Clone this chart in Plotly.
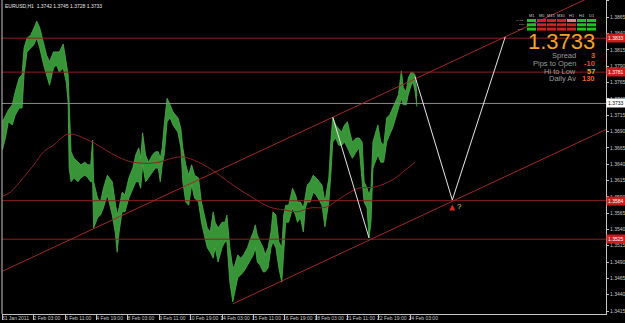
import plotly.graph_objects as go

# ---------------- data ----------------
bars = [0, 3, 6, 10, 13, 17, 20, 22, 25, 29, 32, 35,
        38, 42, 45, 48, 52, 55, 58, 62, 65, 67, 68, 70,
        73, 77, 80, 84, 87, 90, 92, 93, 97, 100, 103, 107,
        112, 115, 117, 119, 122, 125, 129, 133, 136, 139, 141, 143,
        146, 149, 153, 156, 159, 161, 163, 165, 168, 171, 174, 179,
        182, 184, 187, 190, 193, 196, 200, 203, 206, 209, 212, 215,
        217, 220, 224, 227, 229, 232, 235, 237, 240, 243, 246, 250,
        252, 256, 258, 260, 263, 266, 268, 271, 274, 276, 279, 282,
        285, 287, 289, 292, 296, 299, 301, 304, 307, 309, 311, 314,
        317, 320, 323, 326, 329, 333, 335, 337, 340, 343, 346, 349,
        352, 355, 357, 361, 364, 367, 369, 372, 374, 376, 378, 383,
        386, 389, 392, 395, 398, 402, 404, 407, 409, 412, 414, 417,
        419, 421, 423]

highs = [1.3705, 1.3715, 1.3723, 1.3731, 1.3751, 1.3772, 1.3777, 1.3818, 1.3833, 1.3838, 1.3849, 1.3859,
         1.3849, 1.3827, 1.3807, 1.3797, 1.3812, 1.3812, 1.3812, 1.3824, 1.3792, 1.3777, 1.3735, 1.3659,
         1.3649, 1.3643, 1.3639, 1.3643, 1.3639, 1.3639, 1.3677, 1.3613, 1.3588, 1.3582, 1.3603, 1.3623,
         1.3613, 1.3582, 1.3562, 1.3573, 1.3597, 1.3593, 1.3619, 1.3634, 1.3654, 1.3665, 1.3649, 1.3688,
         1.3654, 1.3643, 1.3654, 1.3659, 1.3659, 1.3649, 1.3665, 1.3700, 1.3741, 1.3731, 1.3720, 1.3711,
         1.3695, 1.3665, 1.3639, 1.3623, 1.3639, 1.3623, 1.3619, 1.3582, 1.3562, 1.3542, 1.3536, 1.3567,
         1.3551, 1.3542, 1.3551, 1.3551, 1.3562, 1.3512, 1.3481, 1.3485, 1.3501, 1.3496, 1.3501, 1.3512,
         1.3521, 1.3536, 1.3547, 1.3531, 1.3521, 1.3512, 1.3501, 1.3512, 1.3536, 1.3567, 1.3562, 1.3521,
         1.3512, 1.3562, 1.3577, 1.3577, 1.3603, 1.3593, 1.3582, 1.3582, 1.3573, 1.3593, 1.3608, 1.3613,
         1.3623, 1.3619, 1.3613, 1.3608, 1.3582, 1.3619, 1.3674, 1.3712, 1.3700, 1.3695, 1.3689, 1.3700,
         1.3705, 1.3685, 1.3674, 1.3680, 1.3680, 1.3674, 1.3613, 1.3603, 1.3593, 1.3603, 1.3674, 1.3700,
         1.3674, 1.3669, 1.3711, 1.3715, 1.3726, 1.3741, 1.3746, 1.3783, 1.3757, 1.3751, 1.3772, 1.3781,
         1.3780, 1.3777, 1.3745]

lows = [1.3662, 1.3680, 1.3705, 1.3700, 1.3715, 1.3726, 1.3726, 1.3777, 1.3812, 1.3818, 1.3823, 1.3833,
        1.3818, 1.3792, 1.3777, 1.3761, 1.3787, 1.3792, 1.3781, 1.3787, 1.3766, 1.3735, 1.3634, 1.3613,
        1.3619, 1.3613, 1.3619, 1.3623, 1.3619, 1.3613, 1.3613, 1.3542, 1.3558, 1.3562, 1.3573, 1.3593,
        1.3562, 1.3536, 1.3505, 1.3536, 1.3567, 1.3567, 1.3588, 1.3603, 1.3613, 1.3613, 1.3603, 1.3639,
        1.3613, 1.3619, 1.3628, 1.3634, 1.3634, 1.3613, 1.3639, 1.3654, 1.3705, 1.3711, 1.3700, 1.3689,
        1.3665, 1.3613, 1.3582, 1.3577, 1.3608, 1.3588, 1.3582, 1.3551, 1.3531, 1.3512, 1.3505, 1.3496,
        1.3512, 1.3490, 1.3512, 1.3521, 1.3521, 1.3459, 1.3429, 1.3444, 1.3466, 1.3470, 1.3475, 1.3485,
        1.3490, 1.3501, 1.3512, 1.3490, 1.3485, 1.3475, 1.3475, 1.3481, 1.3512, 1.3521, 1.3512, 1.3481,
        1.3459, 1.3512, 1.3551, 1.3551, 1.3573, 1.3562, 1.3551, 1.3558, 1.3536, 1.3573, 1.3582, 1.3582,
        1.3597, 1.3593, 1.3585, 1.3577, 1.3544, 1.3582, 1.3623, 1.3674, 1.3680, 1.3669, 1.3669, 1.3674,
        1.3665, 1.3654, 1.3649, 1.3659, 1.3665, 1.3613, 1.3582, 1.3573, 1.3527, 1.3551, 1.3634, 1.3654,
        1.3643, 1.3643, 1.3674, 1.3685, 1.3695, 1.3715, 1.3726, 1.3741, 1.3731, 1.3731, 1.3746, 1.3761,
        1.3766, 1.3751, 1.3728]

assert len(bars) == len(highs) == len(lows)

ma_bars = [0, 8, 21, 32, 42, 52, 67, 90, 105, 118, 133, 156, 173, 184, 200, 217, 225, 240,
           256, 273, 287, 301, 314, 330, 347, 363, 380, 398, 411, 421]
ma_vals = [1.3591, 1.3597, 1.3619, 1.3639, 1.3659, 1.3669, 1.3686, 1.3675, 1.3662, 1.3651,
           1.3643, 1.3642, 1.3649, 1.3651, 1.3643, 1.3628, 1.3619, 1.3603, 1.3588, 1.3574,
           1.3570, 1.3567, 1.3573, 1.3574, 1.3590, 1.3603, 1.3605, 1.3616, 1.3631, 1.3643]

upper_ch_bars = [0, 600]
upper_ch_vals = [1.3476, 1.3896]
lower_ch_bars = [235, 620]
lower_ch_vals = [1.3426, 1.3696]

abcd_left_bars = [337, 374]
abcd_left_vals = [1.3712, 1.3527]
abcd_proj_bars = [421, 459, 513]
abcd_proj_vals = [1.3774, 1.3585, 1.3835]

hline_levels = [1.3833, 1.3781, 1.3584, 1.3525]
bid_level = 1.3733

x_tick_bars = [0, 32, 64, 96, 128, 160, 192, 224, 256, 288, 320, 352, 384, 416]
x_tick_text = ["31 Jan 2011", "2 Feb 03:00", "3 Feb 11:00", "4 Feb 19:00", "8 Feb 03:00",
               "9 Feb 11:00", "10 Feb 19:00", "14 Feb 03:00", "15 Feb 11:00", "16 Feb 19:00",
               "18 Feb 03:00", "21 Feb 11:00", "22 Feb 19:00", "24 Feb 03:00"]
y_tick_vals = [1.3415, 1.3440, 1.3465, 1.3490, 1.3515, 1.3540, 1.3565, 1.3590, 1.3615, 1.3640,
               1.3665, 1.3690, 1.3715, 1.3740, 1.3765, 1.3790, 1.3815, 1.3840, 1.3865, 1.3890]

title_text = "EURUSD,H1  1.3742 1.3745 1.3728 1.3733"
timeframes = ["M1", "M5", "M15", "M30", "H1", "H4", "D1"]
ind_rows = ["MACD", "STR", "EMA"]
ind_state = [["g", "r", "r", "r", "p", "g", "g"],
             ["g", "r", "r", "r", "r", "g", "g"],
             ["g", "r", "r", "r", "r", "g", "g"]]
info_labels = ["Spread", "Pips to Open", "Hi to Low", "Daily Av"]
info_values = ["3", "-10", "57", "130"]
info_colors = ["#e8663a", "#e0503a", "#e8a23c", "#e8603a"]

# ---------------- styling ----------------
W, H = 625, 323
ML, MR, MT, MB = 2, 19, 0, 9
PW, PH = W - ML - MR, H - MT - MB
GREEN = "#4cae4c"
GREEN_FILL = "#379537"
DARKRED = "#8c2222"
CHRED = "#a02a2a"
AX = "#c4c4c4"
FONT = "Liberation Sans, Arial, sans-serif"

def px_x(p):
    return (p - ML) / PW

def px_y(p):
    return 1 - (p - MT) / PH

fig = go.Figure()

# price band (high/low of the hourly bars)
fig.add_trace(go.Scatter(x=bars, y=lows, mode="lines", line=dict(color=GREEN, width=0.8),
                         hoverinfo="skip", showlegend=False))
fig.add_trace(go.Scatter(x=bars, y=highs, mode="lines", line=dict(color=GREEN, width=0.8),
                         fill="tonexty", fillcolor=GREEN_FILL, hoverinfo="skip", showlegend=False))

# horizontal levels
for lv in hline_levels:
    fig.add_trace(go.Scatter(x=[-5, 640], y=[lv, lv], mode="lines",
                             line=dict(color=DARKRED, width=1), hoverinfo="skip", showlegend=False))
fig.add_trace(go.Scatter(x=[-5, 640], y=[bid_level, bid_level], mode="lines",
                         line=dict(color="#8a8a8a", width=1), hoverinfo="skip", showlegend=False))

# moving average
fig.add_trace(go.Scatter(x=ma_bars, y=ma_vals, mode="lines", line=dict(color=DARKRED, width=1),
                         line_shape="spline", hoverinfo="skip", showlegend=False))

# channel lines
fig.add_trace(go.Scatter(x=upper_ch_bars, y=upper_ch_vals, mode="lines",
                         line=dict(color=CHRED, width=1), hoverinfo="skip", showlegend=False))
fig.add_trace(go.Scatter(x=lower_ch_bars, y=lower_ch_vals, mode="lines",
                         line=dict(color=CHRED, width=1), hoverinfo="skip", showlegend=False))

# AB=CD white lines
fig.add_trace(go.Scatter(x=abcd_left_bars, y=abcd_left_vals, mode="lines",
                         line=dict(color="#e8e8e8", width=1), hoverinfo="skip", showlegend=False))
fig.add_trace(go.Scatter(x=abcd_proj_bars, y=abcd_proj_vals, mode="lines",
                         line=dict(color="#e8e8e8", width=1), hoverinfo="skip", showlegend=False))

# red arrow under projected point D
fig.add_trace(go.Scatter(x=[abcd_proj_bars[1]], y=[abcd_proj_vals[1] - 0.0007], mode="markers",
                         marker=dict(symbol="arrow-up", size=6, color="#d82828",
                                     line=dict(width=0)),
                         hoverinfo="skip", showlegend=False))

annotations = []
shapes = []

annotations.append(dict(x=abcd_proj_bars[1] + 7, y=abcd_proj_vals[1], xref="x", yref="y", text="?",
                        showarrow=False, yanchor="top", yshift=0,
                        font=dict(color="#e8d870", size=8, family=FONT)))

# title
annotations.append(dict(x=px_x(3), y=px_y(6), xref="paper", yref="paper", text=title_text,
                        showarrow=False, xanchor="left", yanchor="middle",
                        font=dict(color="#e8e8e8", size=5, family=FONT)))

# right axis price labels
for lv in hline_levels:
    annotations.append(dict(x=1, y=lv, xref="paper", yref="y", text=f"{lv:.4f}", showarrow=False,
                            xanchor="left", yanchor="middle", bgcolor="#c81e1e", borderpad=1,
                            font=dict(color="#ffffff", size=5, family=FONT)))
annotations.append(dict(x=1, y=bid_level, xref="paper", yref="y", text=f"{bid_level:.4f}",
                        showarrow=False, xanchor="left", yanchor="middle", bgcolor="#ffffff",
                        borderpad=1, font=dict(color="#000000", size=5, family=FONT)))

# indicator panel
col_x = [527, 537, 547, 557, 567, 577, 587]
row_y = [19, 23.3, 27.6]
cmap = {"g": "#22c022", "r": "#c82424", "p": "#e08080"}
for ci, tf in enumerate(timeframes):
    annotations.append(dict(x=px_x(col_x[ci] + 4.5), y=px_y(15.5), xref="paper", yref="paper",
                            text=tf, showarrow=False, xanchor="center", yanchor="middle",
                            font=dict(color="#c8c8c8", size=4, family=FONT)))
for ri, rn in enumerate(ind_rows):
    annotations.append(dict(x=px_x(526), y=px_y(row_y[ri] + 1.5), xref="paper", yref="paper",
                            text=rn, showarrow=False, xanchor="right", yanchor="middle",
                            font=dict(color="#b0b0b0", size=2.5, family=FONT)))
    for ci in range(len(timeframes)):
        shapes.append(dict(type="rect", xref="paper", yref="paper",
                           x0=px_x(col_x[ci]), x1=px_x(col_x[ci] + 9),
                           y0=px_y(row_y[ri]), y1=px_y(row_y[ri] + 3),
                           fillcolor=cmap[ind_state[ri][ci]], line=dict(width=0)))

annotations.append(dict(x=px_x(597), y=px_y(42), xref="paper", yref="paper", text=f"{bid_level:.4f}",
                        showarrow=False, xanchor="right", yanchor="middle",
                        font=dict(color="#f4a22a", size=22, family=FONT)))
info_y = [56, 63.5, 71, 78.5]
for lab, val, col, yy in zip(info_labels, info_values, info_colors, info_y):
    annotations.append(dict(x=px_x(578), y=px_y(yy), xref="paper", yref="paper", text=lab,
                            showarrow=False, xanchor="right", yanchor="middle",
                            font=dict(color="#9c9c9c", size=7.5, family=FONT)))
    annotations.append(dict(x=px_x(597), y=px_y(yy), xref="paper", yref="paper", text=f"<b>{val}</b>",
                            showarrow=False, xanchor="right", yanchor="middle",
                            font=dict(color=col, size=7.5, family=FONT)))

# left border
shapes.append(dict(type="line", xref="paper", yref="paper", x0=0, x1=0, y0=0, y1=1,
                   line=dict(color=AX, width=1)))

fig.update_layout(
    template="none",
    width=W, height=H,
    margin=dict(l=ML, r=MR, t=MT, b=MB, autoexpand=False),
    paper_bgcolor="#000000", plot_bgcolor="#000000",
    showlegend=False,
    annotations=annotations, shapes=shapes,
    xaxis=dict(range=[-0.5, (PW - 0.5) / 0.98], showgrid=False, zeroline=False, automargin=False,
               tickvals=x_tick_bars, ticktext=x_tick_text, ticks="outside", ticklen=5,
               tickcolor=AX, showline=True, linecolor=AX, linewidth=1, tickangle=0,
               tickfont=dict(color="#c8c8c8", size=5, family=FONT),
               ticklabelshift=13, ticklabelstandoff=-6),
    yaxis=dict(range=[1.34104, 1.38915], side="right", showgrid=False, zeroline=False,
               automargin=False,
               tickvals=y_tick_vals, ticktext=[f"{v:.4f}" for v in y_tick_vals],
               ticks="outside", ticklen=2, tickcolor=AX, showline=True, linecolor=AX,
               linewidth=1, tickfont=dict(color="#c8c8c8", size=5, family=FONT)),
)

fig.write_html("out.html")
